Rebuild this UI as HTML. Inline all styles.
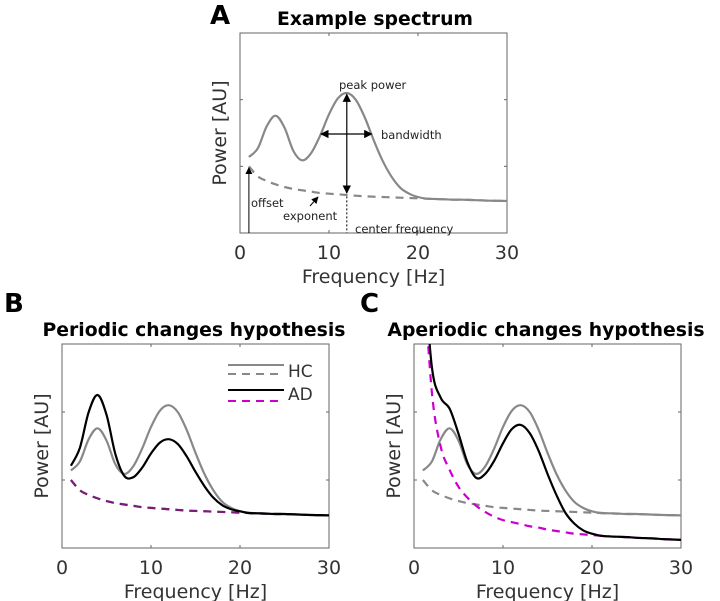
<!DOCTYPE html>
<html><head><meta charset="utf-8">
<style>
body{margin:0;background:#fff;}
svg{display:block;font-family:"DejaVu Sans","Liberation Sans",sans-serif;}
</style></head>
<body>
<svg id="fig" width="720" height="601" viewBox="0 0 720 601"></svg>
<script>
const freqs = [1,2,3,4,5,6,7,8,9,10,11,12,13,14,15,16,17,18,19,20,21,22,23,24,25,26,27,28,29,30];
const hcAperiodic = [1.0,.85,.78,.73,.69,.66,.64,.62,.60,.59,.58,.57,.56,.55,.545,.54,.535,.53,.525,.52,.515,.51,.505,.50,.50,.495,.49,.485,.483,.48];
const hcTotal = [1.14,1.27,1.60,1.76,1.58,1.23,1.09,1.20,1.46,1.78,2.02,2.10,2.00,1.74,1.40,1.09,.85,.68,.59,.54,.515,.51,.505,.50,.50,.495,.49,.485,.483,.48];
const adPeriodicTotal = [1.21,1.47,2.00,2.25,1.96,1.38,1.06,1.04,1.18,1.39,1.55,1.60,1.53,1.35,1.12,.91,.74,.63,.57,.54,.515,.51,.505,.50,.50,.495,.49,.485,.483,.48];
const adAperiodic = [4.2,2.3,1.49,1.15,.90,.74,.62,.53,.46,.41,.38,.35,.32,.30,.27,.25,.23,.21,.20,.19,.18,.17,.165,.16,.15,.145,.14,.13,.125,.12];
const adAperiodicTotal = [4.32,2.67,2.21,2.05,1.68,1.26,1.03,1.09,1.28,1.54,1.75,1.81,1.69,1.43,1.09,.78,.52,.36,.26,.21,.18,.17,.165,.16,.15,.145,.14,.13,.125,.12];
const xTicks = [0,10,20,30];
const yTicks = [1,2];

const NS='http://www.w3.org/2000/svg';
const svg=document.getElementById('fig');
function mk(tag,attrs,parent){const e=document.createElementNS(NS,tag);for(const k in attrs)e.setAttribute(k,attrs[k]);(parent||svg).appendChild(e);return e;}
function axes(x0,x1,y0,y1){return {x:f=>x0+(f/30)*(x1-x0), y:v=>y1-(v/3)*(y1-y0), x0,x1,y0,y1};}
function pathD(ax,xs,ys){
  const p=xs.map((f,i)=>[ax.x(f),ax.y(ys[i])]);
  let d='M'+p[0][0].toFixed(2)+','+p[0][1].toFixed(2);
  for(let i=0;i<p.length-1;i++){
    const a=p[Math.max(0,i-1)],b=p[i],c=p[i+1],e=p[Math.min(p.length-1,i+2)];
    const c1=[b[0]+(c[0]-a[0])/6,b[1]+(c[1]-a[1])/6],c2=[c[0]-(e[0]-b[0])/6,c[1]-(e[1]-b[1])/6];
    d+=' C'+c1.map(v=>v.toFixed(2))+' '+c2.map(v=>v.toFixed(2))+' '+c[0].toFixed(2)+','+c[1].toFixed(2);
  }
  return d;
}
function panel(id,ax,title,tx,ty){
  const g=mk('g',{});
  
  
  const cp=mk('clipPath',{id:id+'-clip'},g);
  mk('rect',{x:ax.x0,y:ax.y0,width:ax.x1-ax.x0,height:ax.y1-ax.y0},cp);
  const box=mk('rect',{x:ax.x0,y:ax.y0,width:ax.x1-ax.x0,height:ax.y1-ax.y0,fill:'none',stroke:'#666','stroke-width':1},g);
  
  
  xTicks.forEach(t=>{
    mk('line',{x1:ax.x(t),x2:ax.x(t),y1:ax.y1,y2:ax.y1-3,stroke:'#666'},g);
    mk('line',{x1:ax.x(t),x2:ax.x(t),y1:ax.y0,y2:ax.y0+3,stroke:'#666'},g);
    const tl=mk('text',{x:ax.x(t),y:ax.y1+26,'text-anchor':'middle','font-size':19,fill:'#333'},g);
    tl.textContent=t;
    
    
  });
  yTicks.forEach(t=>{
    mk('line',{x1:ax.x0,x2:ax.x0+3,y1:ax.y(t),y2:ax.y(t),stroke:'#666'},g);
    mk('line',{x1:ax.x1,x2:ax.x1-3,y1:ax.y(t),y2:ax.y(t),stroke:'#666'},g);
  });
  const xl=mk('text',{x:(ax.x0+ax.x1)/2,y:ax.y1+50,'text-anchor':'middle','font-size':19,fill:'#333'},g);
  xl.textContent='Frequency [Hz]';
  
  
  const cy=(ax.y0+ax.y1)/2, yx=ax.x0-14;
  const yl=mk('text',{x:yx,y:cy,'text-anchor':'middle','font-size':19,fill:'#333',transform:`rotate(-90 ${yx} ${cy})`},g);
  yl.textContent='Power [AU]';
  
  
  const tt=mk('text',{x:tx,y:ty,'text-anchor':'middle','font-size':18.8,'font-weight':'bold',fill:'#000'},g);
  tt.textContent=title;
  
  
  return g;
}
function series(g,id,ax,ys,color,dash,name){
  const p=mk('path',{d:pathD(ax,freqs,ys),fill:'none',stroke:color,'stroke-width':2.2,'clip-path':`url(#${id}-clip)`},g);
  if(dash)p.setAttribute('stroke-dasharray','8 6');
  
  
}
function letter(t,x,y){const e=mk('text',{x,y,'font-size':26,'font-weight':'bold',fill:'#000'});e.textContent=t;
  
  }

// Panel A
const A=axes(240,507,33,233);
const gA=panel('a',A,'Example spectrum',375,25);
letter('A',210,24);
series(gA,'a',A,hcAperiodic,'#888',true,'aperiodic-line');
series(gA,'a',A,hcTotal,'#888',false,'spectrum-line');
mk('defs',{}).innerHTML='<marker id="ah" viewBox="0 0 10 10" refX="9" refY="5" markerWidth="7" markerHeight="7" orient="auto-start-reverse"><path d="M0,0 L10,5 L0,10 z" fill="#000"/></marker>';
function ann(el,name){return el;}
ann(mk('line',{x1:A.x(12),x2:A.x(12),y1:A.y(2.08),y2:A.y(0.6),stroke:'#000','stroke-width':1.2,'marker-start':'url(#ah)','marker-end':'url(#ah)'}),'peak-power-arrow');
ann(mk('line',{x1:A.x(9.1),x2:A.x(14.8),y1:134,y2:134,stroke:'#000','stroke-width':1.2,'marker-start':'url(#ah)','marker-end':'url(#ah)'}),'bandwidth-arrow');
ann(mk('line',{x1:A.x(1),x2:A.x(1),y1:A.y(0),y2:A.y(0.98),stroke:'#000','stroke-width':1,'marker-end':'url(#ah)'}),'offset-arrow');
ann(mk('line',{x1:A.x(12),x2:A.x(12),y1:A.y(0.55),y2:A.y(0),stroke:'#000','stroke-width':1,'stroke-dasharray':'2 2'}),'center-frequency-line');
ann(mk('line',{x1:310,x2:318,y1:206,y2:197,stroke:'#000','stroke-width':1,'marker-end':'url(#ah)'}),'exponent-arrow');
[['peak power',339,89],['bandwidth',381,139],['offset',251,207],['exponent',283,220],['center frequency',355,233]].forEach(([t,x,y])=>{
  const e=mk('text',{x,y,'font-size':11.5,fill:'#222'});e.textContent=t;
  
  
});

// Panel B
const B=axes(62,329,344,548);
const gB=panel('b',B,'Periodic changes hypothesis',194,336);
letter('B',4,312);
series(gB,'b',B,hcAperiodic,'#888',true,'hc-aperiodic-line');
series(gB,'b',B,hcTotal,'#888',false,'hc-spectrum-line');
series(gB,'b',B,hcAperiodic,'#7a1a7a',true,'ad-aperiodic-line');
series(gB,'b',B,adPeriodicTotal,'#000',false,'ad-spectrum-line');
const lg=mk('g',{});


[[365,'#888',false],[374,'#888',true],[390,'#000',false],[401,'#c0c',true]].forEach(([y,c,d])=>{
  const l=mk('line',{x1:228,x2:284,y1:y,y2:y,stroke:c,'stroke-width':2},lg);
  if(d)l.setAttribute('stroke-dasharray','8 6');
  
  
});
[['HC',377],['AD',400]].forEach(([t,y])=>{const e=mk('text',{x:288,y,'font-size':17,fill:'#333'},lg);e.textContent=t;
  
  });

// Panel C
const C=axes(414,681,344,548);
const gC=panel('c',C,'Aperiodic changes hypothesis',546,336);
letter('C',360,312);
series(gC,'c',C,hcAperiodic,'#888',true,'hc-aperiodic-line');
series(gC,'c',C,hcTotal,'#888',false,'hc-spectrum-line');
series(gC,'c',C,adAperiodic,'#c0c',true,'ad-aperiodic-line');
series(gC,'c',C,adAperiodicTotal,'#000',false,'ad-spectrum-line');
</script>
</body></html>
